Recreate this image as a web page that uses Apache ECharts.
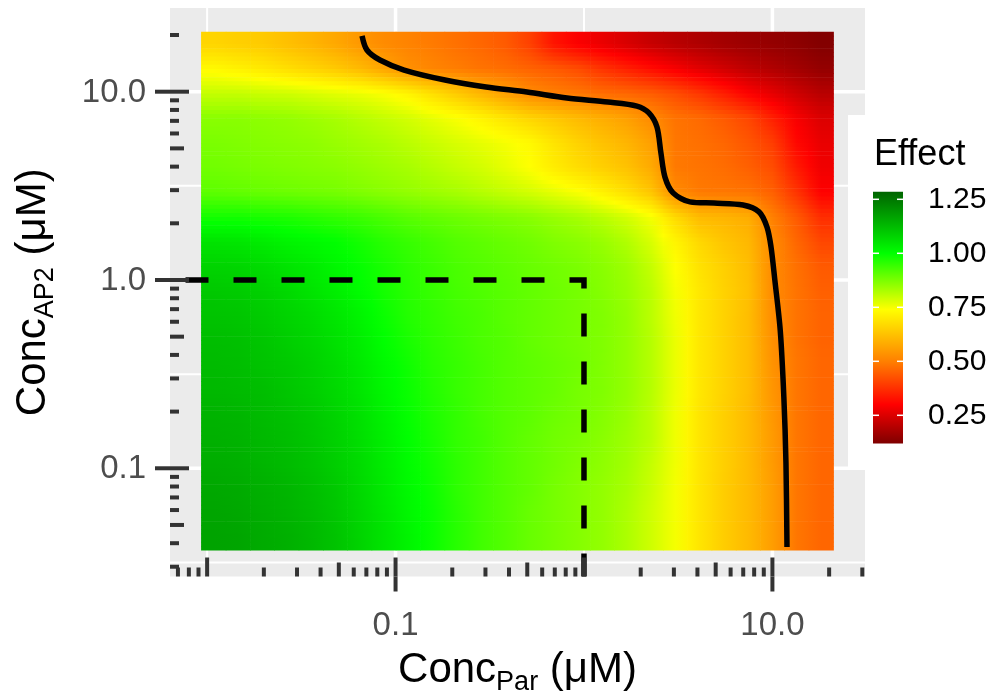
<!DOCTYPE html>
<html>
<head>
<meta charset="utf-8">
<script src="https://cdn.jsdelivr.net/npm/echarts@6/dist/echarts.min.js"></script>
<style>
  html, body { margin: 0; padding: 0; background: #fff; }
  #chart { width: 1000px; height: 698px; }
</style>
</head>
<body>
<div id="chart"></div>
<script>
// sampled concentrations (uM), log spaced
const concPar = [0.0108, 0.0146, 0.0196, 0.0264, 0.0355, 0.0478, 0.0643, 0.0866, 0.116, 0.157,
  0.211, 0.284, 0.382, 0.514, 0.691, 0.930, 1.25, 1.68, 2.26, 3.05, 4.10, 5.52, 7.42, 9.99, 13.4, 18.1];
// AP2 concentrations, top row first
const concAP2 = [17.9, 13.2, 9.77, 7.23, 5.35, 3.95, 2.92, 2.16, 1.60, 1.18, 0.874,
  0.647, 0.478, 0.354, 0.262, 0.193, 0.143, 0.106, 0.0782, 0.0579, 0.0428];

// effect, one row per AP2 concentration (top → bottom)
const effect = [
  [0.66, 0.65, 0.64, 0.62, 0.60, 0.575, 0.545, 0.52, 0.505, 0.49, 0.475, 0.46, 0.44, 0.40, 0.33, 0.295, 0.27, 0.245, 0.22, 0.20, 0.185, 0.17, 0.16, 0.15, 0.14, 0.125],
  [0.73, 0.715, 0.70, 0.68, 0.66, 0.64, 0.61, 0.57, 0.53, 0.51, 0.495, 0.48, 0.47, 0.455, 0.44, 0.42, 0.38, 0.35, 0.32, 0.29, 0.26, 0.235, 0.21, 0.19, 0.17, 0.15],
  [0.80, 0.80, 0.795, 0.79, 0.78, 0.77, 0.76, 0.745, 0.72, 0.68, 0.64, 0.60, 0.56, 0.52, 0.50, 0.485, 0.47, 0.46, 0.445, 0.42, 0.385, 0.345, 0.30, 0.265, 0.23, 0.20],
  [0.86, 0.86, 0.855, 0.85, 0.84, 0.83, 0.815, 0.80, 0.785, 0.765, 0.745, 0.72, 0.69, 0.66, 0.635, 0.61, 0.585, 0.56, 0.52, 0.48, 0.465, 0.44, 0.41, 0.35, 0.29, 0.25],
  [0.875, 0.87, 0.865, 0.86, 0.855, 0.845, 0.835, 0.825, 0.81, 0.795, 0.78, 0.765, 0.75, 0.73, 0.69, 0.655, 0.625, 0.60, 0.56, 0.485, 0.475, 0.46, 0.435, 0.395, 0.31, 0.27],
  [0.885, 0.88, 0.875, 0.87, 0.865, 0.86, 0.85, 0.84, 0.83, 0.815, 0.80, 0.785, 0.765, 0.74, 0.705, 0.675, 0.65, 0.625, 0.58, 0.49, 0.48, 0.47, 0.45, 0.42, 0.34, 0.28],
  [0.905, 0.90, 0.895, 0.89, 0.885, 0.88, 0.87, 0.86, 0.85, 0.84, 0.83, 0.815, 0.80, 0.785, 0.765, 0.745, 0.715, 0.68, 0.63, 0.52, 0.49, 0.485, 0.48, 0.45, 0.38, 0.30],
  [0.98, 0.98, 0.975, 0.97, 0.96, 0.95, 0.94, 0.925, 0.91, 0.90, 0.89, 0.88, 0.87, 0.86, 0.845, 0.83, 0.81, 0.785, 0.75, 0.67, 0.61, 0.60, 0.585, 0.50, 0.44, 0.37],
  [1.05, 1.045, 1.035, 1.02, 1.01, 1.0, 0.98, 0.96, 0.945, 0.93, 0.915, 0.905, 0.895, 0.885, 0.87, 0.86, 0.845, 0.82, 0.78, 0.72, 0.665, 0.63, 0.605, 0.52, 0.46, 0.41],
  [1.08, 1.075, 1.065, 1.05, 1.035, 1.015, 0.995, 0.975, 0.955, 0.94, 0.925, 0.915, 0.905, 0.895, 0.885, 0.875, 0.86, 0.84, 0.80, 0.74, 0.685, 0.65, 0.615, 0.52, 0.475, 0.44],
  [1.10, 1.095, 1.085, 1.07, 1.05, 1.03, 1.005, 0.98, 0.96, 0.945, 0.93, 0.92, 0.91, 0.90, 0.89, 0.88, 0.865, 0.845, 0.81, 0.75, 0.695, 0.655, 0.62, 0.52, 0.48, 0.45],
  [1.11, 1.105, 1.095, 1.08, 1.065, 1.045, 1.02, 0.99, 0.965, 0.95, 0.935, 0.925, 0.91, 0.90, 0.89, 0.88, 0.87, 0.85, 0.81, 0.755, 0.695, 0.655, 0.615, 0.525, 0.48, 0.455],
  [1.12, 1.115, 1.105, 1.09, 1.075, 1.055, 1.03, 1.0, 0.975, 0.955, 0.94, 0.925, 0.915, 0.90, 0.89, 0.88, 0.87, 0.85, 0.815, 0.76, 0.695, 0.655, 0.615, 0.53, 0.48, 0.455],
  [1.125, 1.12, 1.11, 1.10, 1.085, 1.065, 1.04, 1.01, 0.985, 0.96, 0.945, 0.93, 0.915, 0.905, 0.895, 0.885, 0.87, 0.85, 0.815, 0.76, 0.695, 0.655, 0.615, 0.535, 0.485, 0.46],
  [1.13, 1.125, 1.12, 1.105, 1.09, 1.07, 1.045, 1.015, 0.99, 0.965, 0.945, 0.93, 0.915, 0.905, 0.895, 0.88, 0.87, 0.85, 0.815, 0.76, 0.695, 0.655, 0.615, 0.54, 0.485, 0.46],
  [1.14, 1.135, 1.125, 1.115, 1.10, 1.08, 1.055, 1.025, 0.995, 0.97, 0.95, 0.93, 0.915, 0.905, 0.89, 0.88, 0.865, 0.845, 0.81, 0.755, 0.69, 0.65, 0.61, 0.545, 0.485, 0.46],
  [1.145, 1.14, 1.13, 1.12, 1.105, 1.085, 1.06, 1.03, 1.0, 0.975, 0.95, 0.935, 0.915, 0.90, 0.885, 0.875, 0.86, 0.84, 0.81, 0.755, 0.69, 0.65, 0.61, 0.55, 0.485, 0.46],
  [1.15, 1.145, 1.135, 1.125, 1.11, 1.09, 1.065, 1.035, 1.005, 0.98, 0.955, 0.935, 0.915, 0.90, 0.885, 0.87, 0.855, 0.835, 0.80, 0.755, 0.69, 0.65, 0.61, 0.55, 0.485, 0.46],
  [1.16, 1.155, 1.145, 1.135, 1.12, 1.10, 1.07, 1.04, 1.01, 0.985, 0.955, 0.935, 0.915, 0.90, 0.88, 0.865, 0.85, 0.83, 0.795, 0.75, 0.69, 0.645, 0.61, 0.555, 0.485, 0.46],
  [1.165, 1.16, 1.15, 1.14, 1.125, 1.105, 1.075, 1.045, 1.015, 0.99, 0.96, 0.935, 0.915, 0.895, 0.88, 0.865, 0.85, 0.825, 0.79, 0.75, 0.69, 0.645, 0.61, 0.555, 0.485, 0.46],
  [1.17, 1.165, 1.155, 1.145, 1.13, 1.11, 1.08, 1.05, 1.02, 0.99, 0.96, 0.935, 0.915, 0.895, 0.88, 0.865, 0.85, 0.825, 0.79, 0.75, 0.69, 0.645, 0.61, 0.555, 0.485, 0.46]
];

// isobole (solid black curve), [Par, AP2]
const isobole = [
  [0.0664, 19.8], [0.0705, 16.65], [0.0826, 14.73], [0.111, 13.03], [0.183, 11.54], [0.302, 10.59],
  [0.498, 9.96], [0.812, 9.26], [1.34, 8.81], [1.91, 8.39], [2.21, 7.71], [2.44, 6.49], [2.56, 4.73],
  [2.69, 3.52], [2.97, 2.90], [3.65, 2.60], [4.90, 2.56], [6.98, 2.50], [8.49, 2.30], [9.36, 1.91],
  [9.83, 1.50], [10.3, 1.0], [11.0, 0.542], [11.5, 0.239], [11.8, 0.107], [11.95, 0.0382]
];
const refConc = 1.0;   // dashed reference lines at Par = AP2 = 1

const xLabelBreaks = [0.1, 10];
const xLabelText = ['0.1', '10.0'];
const yLabelBreaks = [0.1, 1, 10];
const yLabelText = ['0.1', '1.0', '10.0'];
const xMajorGrid = [0.1, 10];
const xMinorGrid = [0.01, 1];
const yMajorGrid = [0.1, 1, 10];
const yMinorGrid = [0.03162, 0.3162, 3.162];
const logDecades = [0.001, 0.01, 0.1, 1, 10];
const logSteps = [1, 2, 3, 4, 5, 6, 7, 8, 9];

const legendBreaks = [0.25, 0.5, 0.75, 1.0, 1.25];
const legendText = ['0.25', '0.50', '0.75', '1.00', '1.25'];

const EMIN = 0.12, EMAX = 1.285;
const effectStops = [[0.12, '#7f0000'], [0.30, '#ff0000'], [0.50, '#ff8000'], [0.74, '#ffff00'], [1.00, '#00ff00'], [1.285, '#006400']];

const X_MIN = 0.006353, X_MAX = 31.0, Y_MIN = 0.02662, Y_MAX = 27.83;
const FONT = '"Liberation Sans", Arial, Helvetica, sans-serif';

function rgb(h) { return [1, 3, 5].map(k => parseInt(h.slice(k, k + 2), 16)); }
function colorAt(v) {
  for (let k = 1; k < effectStops.length; k++) {
    const [v0, c0] = effectStops[k - 1], [v1, c1] = effectStops[k];
    if (v <= v1 || k === effectStops.length - 1) {
      const t = Math.max(0, Math.min(1, (v - v0) / (v1 - v0)));
      const a = rgb(c0), b = rgb(c1);
      return 'rgb(' + a.map((x, n) => Math.round(x + (b[n] - x) * t)).join(',') + ')';
    }
  }
}
const ramp = [];
for (let k = 0; k <= 58; k++) ramp.push(colorAt(EMIN + (EMAX - EMIN) * k / 58));

function edgesOf(c) {
  const e = [c[0] / Math.sqrt(c[1] / c[0])];
  for (let k = 1; k < c.length; k++) e.push(Math.sqrt(c[k - 1] * c[k]));
  e.push(c[c.length - 1] * Math.sqrt(c[c.length - 1] / c[c.length - 2]));
  return e;
}
const xEdges = edgesOf(concPar);
const yEdges = edgesOf(concAP2);
const NX = concPar.length, NY = concAP2.length;
const cellAt = (i, j) => effect[Math.max(0, Math.min(NY - 1, j))][Math.max(0, Math.min(NX - 1, i))];

const cells = [];
effect.forEach((row, j) => row.forEach((v, i) => cells.push([concPar[i], concAP2[j], v, i, j])));

// each tile is shaded towards its neighbours (like a raster drawn with interpolate = TRUE)
const STRIPS = 6;
function renderTile(params, api) {
  const i = api.value(3), j = api.value(4);
  const a = api.coord([xEdges[i], yEdges[j]]);
  const b = api.coord([xEdges[i + 1], yEdges[j + 1]]);
  const x0 = Math.min(a[0], b[0]), w = Math.abs(b[0] - a[0]);
  const y0 = Math.min(a[1], b[1]), h = Math.abs(b[1] - a[1]);
  const mid = api.visual('color');
  const children = [];
  for (let s = 0; s < STRIPS; s++) {
    const f = (s + 0.5) / STRIPS;
    const jn = f < 0.5 ? j - 1 : j + 1, wt = Math.abs(f - 0.5);
    const v = ii => cellAt(ii, j) * (1 - wt) + cellAt(ii, jn) * wt;
    const vc = v(i);
    children.push({
      type: 'rect',
      shape: { x: x0, y: y0 + h * s / STRIPS, width: w + 0.6, height: h / STRIPS + 0.6 },
      style: {
        fill: new echarts.graphic.LinearGradient(0, 0, 1, 0, [
          { offset: 0, color: colorAt((v(i - 1) + vc) / 2) },
          { offset: 0.5, color: wt === 0 ? mid : colorAt(vc) },
          { offset: 1, color: colorAt((vc + v(i + 1)) / 2) }
        ])
      }
    });
  }
  return { type: 'group', children };
}

const chart = echarts.init(document.getElementById('chart'));

chart.setOption({
  animation: false,
  grid: { left: 170, top: 8, width: 695, height: 568.5, show: false, outerBoundsMode: 'none' },
  xAxis: { type: 'log', min: X_MIN, max: X_MAX, show: false },
  yAxis: { type: 'log', min: Y_MIN, max: Y_MAX, show: false },
  visualMap: {
    type: 'continuous', show: false, min: EMIN, max: EMAX, dimension: 2, seriesIndex: 0,
    inRange: { color: ramp }
  },
  series: [
    {
      type: 'custom', name: 'Effect', data: cells, encode: { x: 0, y: 1 }, z: 2,
      renderItem: renderTile
    },
    {
      type: 'line', data: isobole, smooth: 0.3, symbol: 'none', z: 3,
      lineStyle: { color: '#000', width: 5.5 }
    },
    {
      type: 'line', data: [[refConc, Y_MIN], [refConc, refConc], [X_MIN, refConc]], symbol: 'none', z: 3,
      lineStyle: { color: '#000', width: 5.5, type: [23, 25], cap: 'butt', join: 'miter' }
    }
  ]
});

// ggplot-like decorations placed through the axes' own scales
const xp = v => chart.convertToPixel({ xAxisIndex: 0 }, v);
const yp = v => chart.convertToPixel({ yAxisIndex: 0 }, v);
const L = xp(X_MIN), R = xp(X_MAX), T = yp(Y_MAX), B = yp(Y_MIN);

const g = [];
const line = (x1, y1, x2, y2, stroke, w, z) => g.push({
  type: 'line', silent: true, z, shape: { x1, y1, x2, y2 }, style: { stroke, lineWidth: w }
});
const text = (t, x, y, size, fill, align) => g.push({
  type: 'text', silent: true, z: 6,
  style: { legacy: false, text: t, x, y, fill, font: size + 'px ' + FONT, align, verticalAlign: 'middle' }
});

g.push({ type: 'rect', silent: true, z: 0, shape: { x: L, y: T, width: R - L, height: B - T }, style: { fill: '#EBEBEB' } });
xMinorGrid.forEach(v => line(xp(v), T, xp(v), B, '#fff', 2, 1));
yMinorGrid.forEach(v => line(L, yp(v), R, yp(v), '#fff', 2, 1));
xMajorGrid.forEach(v => line(xp(v), T, xp(v), B, '#fff', 3.5, 1));
yMajorGrid.forEach(v => line(L, yp(v), R, yp(v), '#fff', 3.5, 1));

// legend background sits over the panel edge
g.push({ type: 'rect', silent: true, z: 1.5, shape: { x: 848, y: 115, width: 152, height: 352 }, style: { fill: '#fff' } });

// log ticks inside the panel + axis ticks outside
const tickLen = k => (k === 1 ? 19 : k === 5 ? 14 : 9);
logDecades.forEach(d => logSteps.forEach(k => {
  const v = d * k;
  if (v >= X_MIN && v <= X_MAX) line(xp(v), B, xp(v), B - tickLen(k), '#333', 4, 5);
  if (v >= Y_MIN && v <= Y_MAX) line(L, yp(v), L + tickLen(k), yp(v), '#333', 4, 5);
}));
xLabelBreaks.forEach((v, n) => {
  line(xp(v), B, xp(v), B + 15, '#333', 4, 5);
  text(xLabelText[n], xp(v), 626, 33, '#4D4D4D', 'center');
});
yLabelBreaks.forEach((v, n) => {
  line(L, yp(v), L - 15, yp(v), '#333', 4, 5);
  text(yLabelText[n], 146, yp(v) + 1, 33, '#4D4D4D', 'right');
});

// axis titles with subscripts
const titleRich = {
  m: { fontSize: 42, fontFamily: FONT, fill: '#000', verticalAlign: 'bottom', padding: [0, 0, 5, 0] },
  s: { fontSize: 27, fontFamily: FONT, fill: '#000', verticalAlign: 'bottom' }
};
g.push({
  type: 'text', silent: true, z: 6,
  style: { legacy: false, text: '{m|Conc}{s|Par}{m| (\u03bcM)}', x: (L + R) / 2, y: 673, align: 'center', verticalAlign: 'middle', rich: titleRich }
});
g.push({
  type: 'text', silent: true, z: 6, x: 36, y: (T + B) / 2, rotation: Math.PI / 2,
  style: { legacy: false, text: '{m|Conc}{s|AP2}{m| (\u03bcM)}', x: 0, y: 0, align: 'center', verticalAlign: 'middle', rich: titleRich }
});

// colour bar legend
const legY = v => 199.3 + (1.25 - v) * 216;
const barX = 873, barW = 30;
text('Effect', 874, 155, 36, '#000', 'left');
g.push({
  type: 'rect', silent: true, z: 5,
  shape: { x: barX, y: legY(EMAX), width: barW, height: legY(EMIN) - legY(EMAX) },
  style: {
    fill: new echarts.graphic.LinearGradient(0, 1, 0, 0,
      effectStops.map(([v, c]) => ({ offset: (v - EMIN) / (EMAX - EMIN), color: c })))
  }
});
legendBreaks.forEach((v, n) => {
  line(barX, legY(v), barX + 6, legY(v), '#fff', 1.5, 6);
  line(barX + barW - 6, legY(v), barX + barW, legY(v), '#fff', 1.5, 6);
  text(legendText[n], 928, legY(v), 30, '#000', 'left');
});

chart.setOption({ graphic: { elements: g } });
</script>
</body>
</html>
